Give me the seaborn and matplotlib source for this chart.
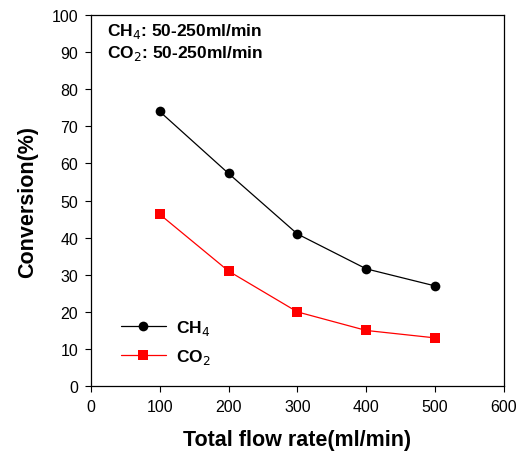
import matplotlib
matplotlib.use("Agg")
import matplotlib.pyplot as plt
import seaborn as sns
import pandas as pd

flow = [100, 200, 300, 400, 500]
ch4 = [74.0, 57.3, 41.0, 31.6, 27.0]
co2 = [46.3, 31.0, 20.0, 15.0, 13.0]

sns.set_style("ticks")
plt.rcParams['font.family'] = ['Liberation Sans', 'DejaVu Sans']
plt.rcParams['text.color'] = 'black'
plt.rcParams['axes.labelcolor'] = 'black'

df = pd.DataFrame({
    "flow": flow * 2,
    "conv": ch4 + co2,
    "gas": ["CH$_4$"] * 5 + ["CO$_2$"] * 5,
})

fig = plt.figure(figsize=(5.19, 4.56), dpi=100)
ax = fig.add_axes([0.175, 0.151, 0.796, 0.814])

sns.lineplot(data=df, x="flow", y="conv", hue="gas", style="gas",
             palette={"CH$_4$": "black", "CO$_2$": "red"},
             markers={"CH$_4$": "o", "CO$_2$": "s"}, dashes=False,
             markersize=7, linewidth=0.9, markeredgewidth=0, ax=ax)

ax.set_xlim(0, 600)
ax.set_ylim(0, 100)
ax.set_xticks(range(0, 601, 100))
ax.set_yticks(range(0, 101, 10))
ax.tick_params(direction="out", length=4, width=0.8, labelsize=11.5,
               colors="black", pad=5)
for s in ax.spines.values():
    s.set_visible(True)
    s.set_linewidth(0.9)
    s.set_color("black")

ax.set_xlabel("Total flow rate(ml/min)", fontsize=15.5, fontweight="bold", labelpad=11)
ax.set_ylabel("Conversion(%)", fontsize=15.5, fontweight="bold", labelpad=10)

ax.text(0.038, 0.985, "CH$_4$: 50-250ml/min", transform=ax.transAxes,
        fontsize=12.5, fontweight="bold", va="top", ha="left")
ax.text(0.038, 0.925, "CO$_2$: 50-250ml/min", transform=ax.transAxes,
        fontsize=12.5, fontweight="bold", va="top", ha="left")

leg = ax.legend(loc="lower left", bbox_to_anchor=(0.035, 0.012), frameon=False,
                fontsize=12.5, handlelength=2.6, handletextpad=0.6,
                labelspacing=0.6, title=None)
for t in leg.get_texts():
    t.set_fontweight("bold")

fig.savefig("out.png", dpi=100)
